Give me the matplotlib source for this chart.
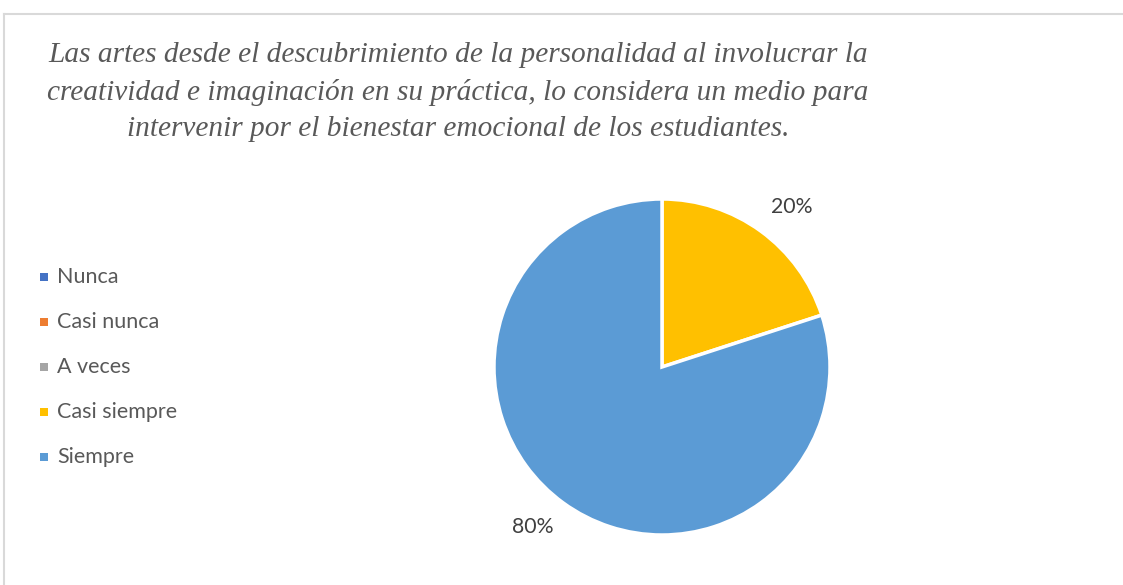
import matplotlib
matplotlib.use("Agg")
import matplotlib.pyplot as plt
from matplotlib.patches import Rectangle
from matplotlib.lines import Line2D
import numpy as np

categories = ["Nunca", "Casi nunca", "A veces", "Casi siempre", "Siempre"]
values = [0, 0, 0, 20, 80]
colors = ["#4472C4", "#ED7D31", "#A5A5A5", "#FFC000", "#5B9BD5"]
title = ("Las artes desde el descubrimiento de la personalidad al involucrar la\n"
         "creatividad e imaginación en su práctica, lo considera un medio para\n"
         "intervenir por el bienestar emocional de los estudiantes.")

W, H = 1123, 585
fig = plt.figure(figsize=(W / 100, H / 100), dpi=100)
fig.patch.set_facecolor("white")

# chart border (left and top edges visible)
fig.add_artist(Line2D([4 / W, 4 / W], [0, 1 - 14 / H], transform=fig.transFigure,
                      color="#D9D9D9", lw=1.5))
fig.add_artist(Line2D([4 / W, 1], [1 - 14 / H, 1 - 14 / H], transform=fig.transFigure,
                      color="#D9D9D9", lw=1.5))

# title
fig.text(458 / W, 1 - 92 / H, title, ha="center", va="center",
         family="Liberation Serif", style="italic", fontsize=21.2,
         color="#595959", linespacing=1.52)

# pie
cx, cy, r = 662, 367, 168
ax = fig.add_axes([(cx - r) / W, (H - cy - r) / H, 2 * r / W, 2 * r / H])
wedges, _ = ax.pie(values, colors=colors, startangle=90, counterclock=False,
                   wedgeprops=dict(edgecolor="white", linewidth=2.5))
ax.set_xlim(-1, 1)
ax.set_ylim(-1, 1)
ax.set_aspect("equal")
ax.axis("off")

total = sum(values)
ang = 90.0
for v in values:
    if v == 0:
        continue
    span = 360.0 * v / total
    mid = np.deg2rad(ang - span / 2)
    ang -= span
    c, s = np.cos(mid), np.sin(mid)
    ax.text(1.10 * c, 1.10 * s, f"{v / total:.0%}",
            ha="left" if c > 0 else "right", va="bottom" if s > 0 else "top",
            family="Lato", fontsize=15.3, color="#404040", clip_on=False)

# legend
y0, dy = 277, 45
for i, (c, col) in enumerate(zip(categories, colors)):
    y = y0 + i * dy
    fig.add_artist(Rectangle((40 / W, 1 - (y + 4) / H), 8 / W, 8 / H,
                             transform=fig.transFigure, facecolor=col, edgecolor="none"))
    fig.text(57 / W, 1 - y / H, c, ha="left", va="center", family="Lato",
             fontsize=15.5, color="#595959")

fig.savefig("out.png", dpi=100)
